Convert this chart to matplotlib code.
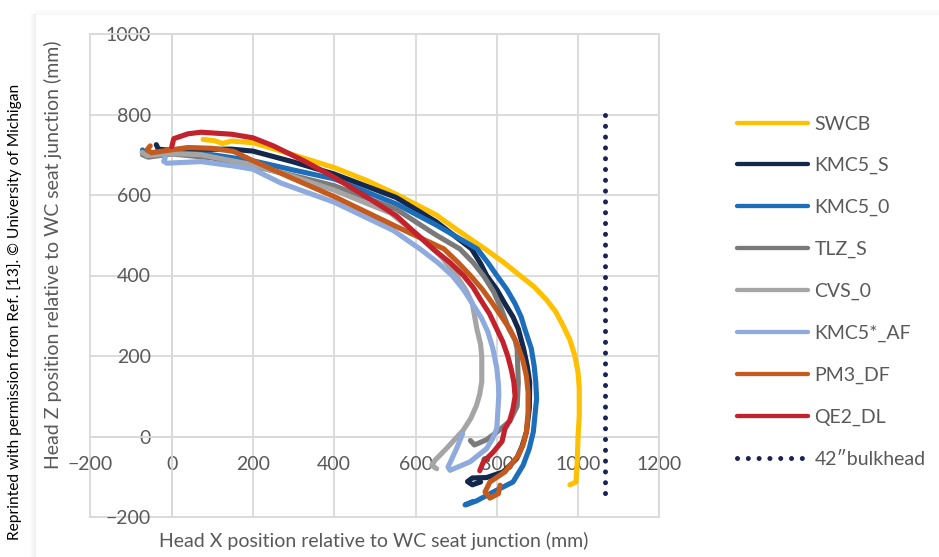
import matplotlib
matplotlib.use('Agg')
import matplotlib.pyplot as plt
from matplotlib.lines import Line2D

plt.rcParams['font.family'] = ['Lato', 'DejaVu Sans']

# ---------------- data ----------------
series_names = ['SWCB', 'KMC5_S', 'KMC5_0', 'TLZ_S', 'CVS_0', 'KMC5*_AF', 'PM3_DF', 'QE2_DL']
series_colors = ['#FFC000', '#14284B', '#1C6EBB', '#7A7A7A', '#A5A5A5', '#8FAADC', '#C55A1E', '#C3212B']

swcb_x = [77, 105, 125, 147, 200, 260, 330, 400, 480, 552, 650, 700, 771, 815, 857, 892, 922, 945, 963, 980, 992, 1000, 1003, 1003, 1000, 998, 995, 980]
swcb_z = [738, 735, 728, 734, 730, 712, 690, 668, 636, 602, 551, 515, 466, 434, 400, 372, 340, 310, 276, 240, 201, 160, 119, 52, 0, -63, -113, -120]

kmc5s_x = [-38, -33, -15, 50, 147, 200, 300, 400, 552, 650, 738, 760, 775, 800, 820, 840, 853, 866, 875, 881, 880, 873, 862, 849, 816, 775, 740, 728, 740, 760]
kmc5s_z = [725, 714, 712, 713, 714, 709, 682, 652, 594, 534, 466, 430, 400, 365, 330, 297, 267, 218, 175, 135, 70, 11, -25, -55, -88, -102, -103, -112, -120, -113]

kmc50_x = [-72, -68, -40, 0, 100, 200, 300, 400, 552, 650, 752, 778, 800, 825, 845, 860, 869, 885, 892, 896, 898, 890, 880, 865, 840, 791, 750, 722, 740]
kmc50_z = [712, 703, 706, 706, 700, 685, 662, 640, 578, 526, 466, 432, 400, 365, 330, 297, 267, 218, 175, 135, 94, 12, -30, -71, -113, -138, -160, -170, -162]

tlzs_x = [-72, -58, 0, 100, 200, 300, 400, 552, 650, 709, 742, 767, 792, 810, 830, 845, 850, 853, 850, 832, 805, 775, 745, 735]
tlzs_z = [700, 694, 702, 692, 672, 648, 623, 565, 501, 466, 432, 400, 360, 320, 267, 240, 218, 135, 75, 38, 15, -8, -21, -10]

cvs0_x = [-73, -60, 0, 72, 200, 300, 400, 539, 620, 665, 702, 725, 740, 751, 760, 763, 763, 758, 750, 736, 717, 676, 648, 640, 652]
cvs0_z = [706, 698, 703, 700, 675, 645, 612, 555, 489, 445, 398, 362, 330, 267, 230, 200, 136, 105, 77, 45, 15, -30, -59, -72, -80]

kmc5af_x = [-16, -20, -12, 72, 153, 200, 268, 400, 545, 611, 655, 690, 718, 740, 762, 778, 790, 800, 804, 805, 800, 790, 775, 734, 685, 680, 701, 716]
kmc5af_z = [692, 684, 679, 683, 672, 664, 630, 582, 512, 466, 432, 400, 365, 330, 295, 260, 220, 170, 130, 102, 20, -5, -30, -63, -84, -76, -30, 7]

pm3df_x = [-53, -61, -50, -16, 40, 100, 153, 200, 300, 400, 552, 670, 705, 735, 765, 790, 812, 832, 850, 864, 873, 877, 877, 873, 865, 853, 820, 783, 771, 783, 804, 808]
pm3df_z = [722, 712, 705, 710, 718, 716, 708, 685, 640, 596, 522, 466, 432, 400, 365, 330, 297, 267, 230, 190, 150, 110, 60, 12, -20, -47, -88, -113, -138, -153, -142, -121]

qe2dl_x = [0, 5, 40, 72, 147, 200, 250, 325, 400, 488, 552, 643, 685, 718, 742, 760, 782, 800, 815, 827, 836, 842, 845, 840, 832, 820, 813, 791, 767, 758]
qe2dl_z = [720, 740, 752, 756, 751, 742, 722, 685, 644, 590, 549, 466, 432, 400, 370, 340, 305, 267, 235, 200, 165, 135, 100, 69, 40, 19, -12, -39, -63, -85]

bulkhead_name = '42\u2033bulkhead'
bulkhead_x = [1066.8, 1066.8]
bulkhead_z = [800, -150]

x_ticks = [-200, 0, 200, 400, 600, 800, 1000, 1200]
y_ticks = [-200, 0, 200, 400, 600, 800, 1000]

series_x = [swcb_x, kmc5s_x, kmc50_x, tlzs_x, cvs0_x, kmc5af_x, pm3df_x, qe2dl_x]
series_z = [swcb_z, kmc5s_z, kmc50_z, tlzs_z, cvs0_z, kmc5af_z, pm3df_z, qe2dl_z]

# ---------------- figure ----------------
W, H = 939, 557
fig = plt.figure(figsize=(W / 100, H / 100), dpi=100)
fig.patch.set_facecolor('white')

# card shadow (left and top edges)
for i in range(6):
    a = 0.10 * (1 - i / 6)
    fig.add_artist(Line2D([(35 - i) / W] * 2, [0, 1 - 14 / H], transform=fig.transFigure,
                          color='black', alpha=a * 0.6, lw=0.75))
    fig.add_artist(Line2D([35 / W, 1], [1 - (14 - i) / H] * 2, transform=fig.transFigure,
                          color='black', alpha=a * 0.3, lw=0.75))

ax_l, ax_r, ax_t, ax_b = 90.5, 659.3, 34.0, 517.0
ax = fig.add_axes([ax_l / W, 1 - ax_b / H, (ax_r - ax_l) / W, (ax_b - ax_t) / H])
ax.set_facecolor('none')

grid_c = '#D9D9D9'
text_c = '#595959'

for name, c, xs, zs in zip(series_names, series_colors, series_x, series_z):
    ax.plot(xs, zs, color=c, lw=3.7, solid_capstyle='round', solid_joinstyle='round',
            zorder=3, label=name)
ax.plot(bulkhead_x, bulkhead_z, color='#1B2356', lw=3.6, linestyle=(0, (0.01, 2.15)),
        dash_capstyle='round', zorder=3, label=bulkhead_name)

ax.set_xlim(-200, 1200)
ax.set_ylim(-200, 1000)
ax.set_xticks(x_ticks)
ax.set_yticks(y_ticks)
ax.grid(True, color=grid_c, lw=1.3)
ax.set_axisbelow(True)

for s in ['left', 'bottom']:
    ax.spines[s].set_position(('data', 0))
for s in ['left', 'bottom', 'top', 'right']:
    ax.spines[s].set_color(grid_c)
    ax.spines[s].set_linewidth(1.3)
    ax.spines[s].set_zorder(1)
ax.axvline(-200, color=grid_c, lw=1.3, clip_on=False, zorder=0.5)
ax.axhline(-200, color=grid_c, lw=1.3, clip_on=False, zorder=0.5)

ax.tick_params(length=0, labelsize=14, labelcolor=text_c)
ax.tick_params(axis='x', pad=14)
ax.tick_params(axis='y', pad=15)

fig.text(374 / W, 1 - 541 / H, 'Head X position relative to WC seat junction (mm)',
         ha='center', va='center', fontsize=14, color=text_c)
fig.text(53 / W, 1 - 255 / H, 'Head Z position relative to WC seat junction (mm)',
         ha='center', va='center', rotation=90, fontsize=14, color=text_c)
fig.text(15 / W, 1 - 84 / H, 'Reprinted with permission from Ref. [13]. \u00a9 University of Michigan',
         ha='center', va='top', rotation=90, fontsize=11.2, color='black')

leg = fig.legend(loc='upper left', bbox_to_anchor=(737.3 / W, 1 - 115.5 / H),
                 frameon=False, fontsize=14, handlelength=3.65, handletextpad=0.31,
                 labelspacing=1.27, borderpad=0, borderaxespad=0)
for t in leg.get_texts():
    t.set_color(text_c)
for ln in leg.get_lines()[:-1]:
    ln.set_linewidth(3.1)

fig.savefig('out.png', dpi=100)
